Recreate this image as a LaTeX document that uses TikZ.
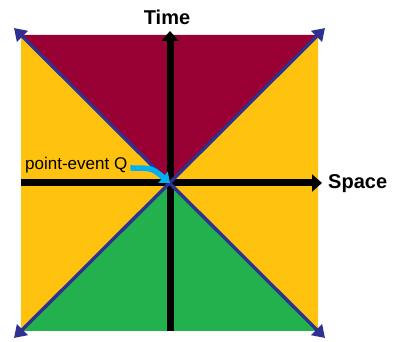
\documentclass[tikz,border=0pt]{standalone}
\usepackage{fontspec}
\setmainfont{Liberation Sans}
\usepackage{xcolor}
\usetikzlibrary{calc, arrows.meta, positioning}

\definecolor{maroon}{RGB}{153,0,51}
\definecolor{amber}{RGB}{255,194,14}
\definecolor{grass}{RGB}{34,177,76}
\definecolor{ink}{RGB}{46,49,146}
\definecolor{sky}{RGB}{0,176,240}

\begin{document}
\begin{tikzpicture}[x=1pt, y=-1pt,
    axis/.style={line width=7pt, -{Triangle[length=10pt, width=17pt]}},
    cone/.style={ink, line width=3.4pt, {Triangle[length=12pt, width=15pt]}-{Triangle[length=12pt, width=15pt]}},
    bigtxt/.style={font=\bfseries\fontsize{20}{24}\selectfont, inner sep=0pt}]
    \useasboundingbox (0,0) rectangle (397,342);

    % Ecken und Ursprung
    \coordinate (Q) at (170,183);
    \coordinate (tl) at (21,35);
    \coordinate (tr) at (318,35);
    \coordinate (bl) at (21,331);
    \coordinate (br) at (318,331);

    % Gebiete
    \fill[maroon] (tl) -- (tr) -- (Q) -- cycle;
    \fill[grass] (bl) -- (br) -- (Q) -- cycle;
    \fill[amber] (tl) -- (bl) -- (Q) -- cycle;
    \fill[amber] (tr) -- (br) -- (Q) -- cycle;

    % Achsen
    \coordinate (t0) at (170,331);
    \coordinate (t1) at (170,31);
    \coordinate (s0) at (21,183);
    \coordinate (s1) at (322,183);
    \draw[axis] (t0) -- (t1);
    \draw[axis] (s0) -- (s1);
    \node[bigtxt] (time) at (167,17) {Time};
    \node[bigtxt, anchor=west] (space) at (328,184) {Space};

    % Lichtkegel
    \coordinate (tlx) at (14,28);
    \coordinate (trx) at (325,28);
    \coordinate (blx) at (14,338);
    \coordinate (brx) at (325,338);
    \draw[cone] (tlx) -- (brx);
    \draw[cone] (trx) -- (blx);

    % Ereignis Q
    \node[anchor=west, inner sep=0pt, font=\fontsize{17}{20}\selectfont] (lab) at (25,165) {point-event Q};
    \draw[sky, line width=5.5pt, -{Triangle[length=9pt, width=14pt]}]
        ($(lab.east)+(3,3)$) .. controls (152,168) .. (Q);
\end{tikzpicture}
\end{document}
